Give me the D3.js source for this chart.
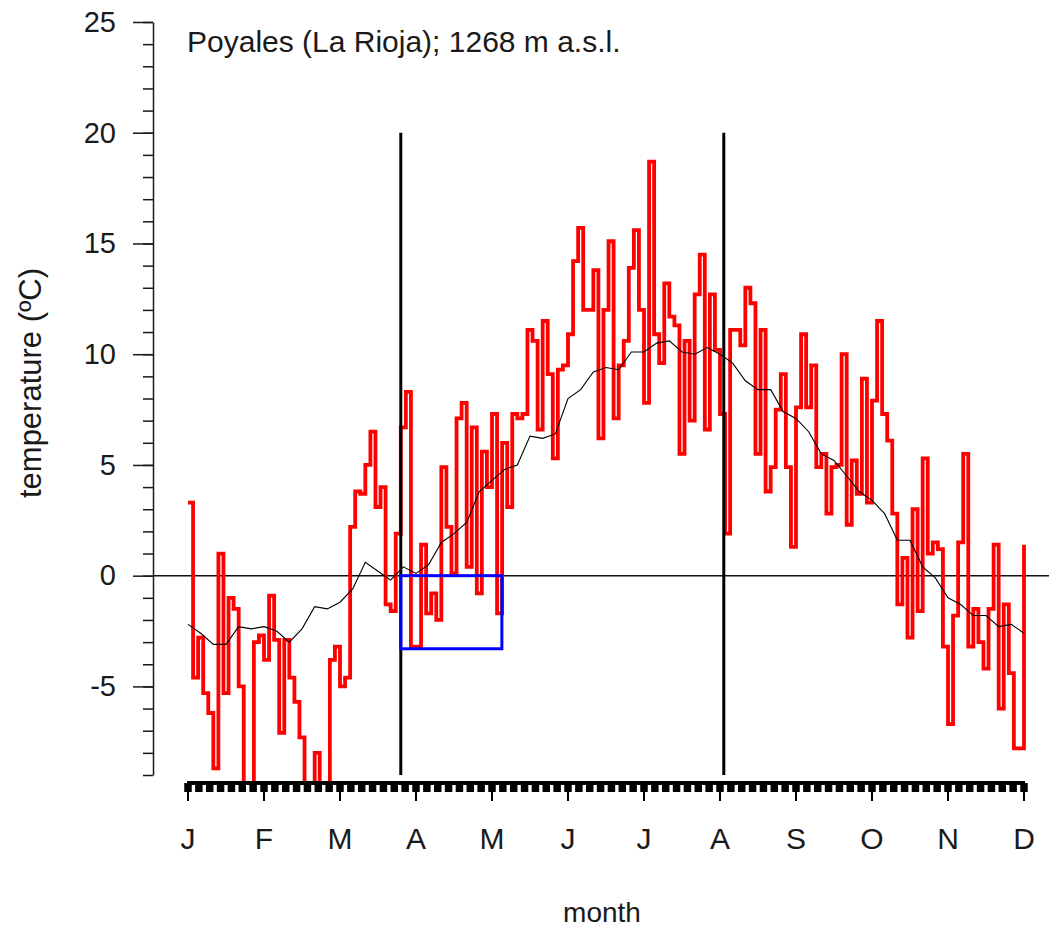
<!DOCTYPE html>
<meta charset="utf-8">

<!-- Load d3.js -->
<script src="https://d3js.org/d3.v7.min.js"></script>

<style>
  body { margin: 0; background: #fff; }
  text { font-family: "Liberation Sans", Arial, sans-serif; fill: #1a1a1a; }
</style>

<svg id="my_dataviz" width="1049" height="928"></svg>

<script>

// month labels, one per month start
var months = ["J", "F", "M", "A", "M", "J", "J", "A", "S", "O", "N", "D"];

// daily temperature, read every 1/15 month (~2 days) from Jan to Dec
var tempDaily = [
   3.3, -4.6, -2.8, -5.3, -6.2, -8.7,  1.0, -5.3, -1.0, -1.5, -5.0, -9.5, -10, -3.0, -2.7,
  -3.8, -0.9, -2.9, -7.1, -2.9, -4.6, -5.7, -7.3, -9.5, -9.5, -8.0, -9.5, -9.5, -3.8, -3.2,
  -5.0, -4.6,  2.2,  3.8,  3.7,  5.0,  6.5,  3.1,  4.0, -1.3, -1.6,  1.9,  6.7,  8.3, -3.2,
  -3.2,  1.4, -1.7, -0.8, -2.0,  4.9,  2.2,  0.1,  7.1,  7.8,  0.4,  6.7, -0.8,  5.6,  4.0,
   7.3, -1.7,  6.0,  3.1,  7.3,  7.1,  7.3, 11.1, 10.6,  6.6, 11.5,  9.1,  5.3,  9.3,  9.5,
  10.9, 14.2, 15.7, 12.0, 12.0, 13.8,  6.2, 12.0, 15.1,  7.1,  9.5, 10.6, 13.9, 15.6, 12.0,
   7.8, 18.7, 10.9,  9.6, 13.2, 11.7, 11.3,  5.5, 10.6,  7.0, 12.7, 14.5,  6.6, 12.7, 10.2,
   7.3,  1.9, 11.1, 11.1, 10.4, 13.0, 12.3,  5.5, 11.1,  3.8,  4.9,  7.5,  9.1,  4.9,  1.3,
   7.6, 10.9,  7.6,  9.5,  4.9,  5.5,  2.8,  4.9,  5.0, 10.0,  2.3,  5.2,  3.7,  8.9,  3.3,
   7.9, 11.5,  7.3,  6.1,  2.8, -1.3,  0.8, -2.8,  3.0, -1.6,  5.3,  1.0,  1.5,  1.2, -3.2,
  -6.7, -1.8,  1.5,  5.5, -3.2, -1.5, -3.0, -4.2, -1.5,  1.4, -6.0, -1.3, -4.4, -7.8, -7.8,
   1.4
];

// long-term mean, read every 1/6 month
var tempMean = [
  -2.2, -2.6, -3.1, -3.1, -2.3, -2.4,
  -2.3, -2.5, -3.0, -2.4, -1.4, -1.5,
  -1.2, -0.6,  0.6,  0.2, -0.2,  0.4,
   0.1,  0.5,  1.5,  1.9,  2.4,  3.8,
   4.3,  4.8,  5.0,  6.3,  6.2,  6.4,
   8.0,  8.4,  9.2,  9.4,  9.3, 10.1,
  10.1, 10.5, 10.6, 10.1, 10.0, 10.3,
  10.0,  9.6,  8.8,  8.4,  8.4,  7.4,
   7.1,  6.5,  5.5,  5.2,  4.5,  3.8,
   3.4,  2.8,  1.6,  1.6,  0.4, -0.1,
  -1.0, -1.3, -1.8, -1.8, -2.3, -2.2,
  -2.6
];

// vertical markers (in months) and the box
var markerMonths = [2.8, 7.05];
var markerTop = 20;
var boxMonths = [2.8, 4.13];
var boxTemps = [-3.3, 0];

var yMajor = [-5, 0, 5, 10, 15, 20, 25];
var yMinor = d3.range(-9, 26, 1);

var title = "Poyales (La Rioja); 1268 m a.s.l.";

var svg = d3.select("svg");

var x = d3.scaleLinear().domain([0, 11]).range([188, 1024]);
var y = d3.scaleLinear().domain([-9, 25]).range([775, 22]);

// plot region clip
svg.append("clipPath").attr("id", "plotclip")
  .append("rect")
    .attr("x", 153).attr("y", 0)
    .attr("width", 1049 - 153).attr("height", 781);

var plot = svg.append("g").attr("clip-path", "url(#plotclip)");

// zero line
plot.append("line")
  .attr("x1", 153).attr("x2", 1049)
  .attr("y1", y(0)).attr("y2", y(0))
  .attr("stroke", "#111").attr("stroke-width", 1.5);

// daily red step line
var redLine = d3.line()
  .x((d, i) => x(i / 15))
  .y(d => y(d))
  .curve(d3.curveStepAfter);

plot.append("path")
  .datum(tempDaily)
  .attr("d", redLine)
  .attr("fill", "none")
  .attr("stroke", "#ff0000")
  .attr("stroke-width", 3.8);

// mean black line
var meanLine = d3.line()
  .x((d, i) => x(i / 6))
  .y(d => y(d));

plot.append("path")
  .datum(tempMean)
  .attr("d", meanLine)
  .attr("fill", "none")
  .attr("stroke", "#000")
  .attr("stroke-width", 1.1);

// vertical markers
plot.selectAll(".marker")
  .data(markerMonths)
  .enter().append("line")
    .attr("class", "marker")
    .attr("x1", d => x(d)).attr("x2", d => x(d))
    .attr("y1", y(markerTop)).attr("y2", y(-9))
    .attr("stroke", "#000").attr("stroke-width", 3);

// blue box
plot.append("rect")
  .attr("x", x(boxMonths[0]))
  .attr("y", y(boxTemps[1]))
  .attr("width", x(boxMonths[1]) - x(boxMonths[0]))
  .attr("height", y(boxTemps[0]) - y(boxTemps[1]))
  .attr("fill", "none")
  .attr("stroke", "#0000ff")
  .attr("stroke-width", 3);

// Y axis
var yAxis = svg.append("g")
  .attr("transform", "translate(153,0)")
  .call(d3.axisLeft(y).tickValues(yMajor).tickSize(20).tickSizeOuter(0)
    .tickPadding(17).tickFormat(d => String(d)));
yAxis.selectAll("text").attr("font-size", 29);

svg.append("g")
  .attr("transform", "translate(153,0)")
  .call(d3.axisLeft(y).tickValues(yMinor).tickSize(10).tickSizeOuter(0).tickFormat(""))
  .select(".domain").remove();

svg.selectAll(".domain, .tick line").attr("stroke", "#1a1a1a").attr("stroke-width", 1.5);

// X axis: heavy baseline with dense ticks
var xg = svg.append("g");
xg.append("line")
  .attr("x1", x(0) - 1).attr("x2", x(11) + 1)
  .attr("y1", 783).attr("y2", 783)
  .attr("stroke", "#000").attr("stroke-width", 4);

xg.selectAll(".minor")
  .data(d3.range(0, 11, 1 / 7).concat([11]))
  .enter().append("line")
    .attr("class", "minor")
    .attr("x1", d => x(d)).attr("x2", d => x(d))
    .attr("y1", 783).attr("y2", 792)
    .attr("stroke", "#000").attr("stroke-width", 7.5);

xg.selectAll(".major")
  .data(months)
  .enter().append("line")
    .attr("class", "major")
    .attr("x1", (d, i) => x(i)).attr("x2", (d, i) => x(i))
    .attr("y1", 783).attr("y2", 801)
    .attr("stroke", "#000").attr("stroke-width", 2);

xg.selectAll(".mlabel")
  .data(months)
  .enter().append("text")
    .attr("class", "mlabel")
    .attr("x", (d, i) => x(i))
    .attr("y", 849)
    .attr("text-anchor", "middle")
    .attr("font-size", 30)
    .text(d => d);

// titles
svg.append("text")
  .attr("x", 187).attr("y", 52)
  .attr("font-size", 30)
  .text(title);

svg.append("text")
  .attr("transform", "translate(41,383) rotate(-90)")
  .attr("text-anchor", "middle")
  .attr("font-size", 31)
  .text("temperature (ºC)");

svg.append("text")
  .attr("x", 602).attr("y", 922)
  .attr("text-anchor", "middle")
  .attr("font-size", 28)
  .text("month");

</script>
